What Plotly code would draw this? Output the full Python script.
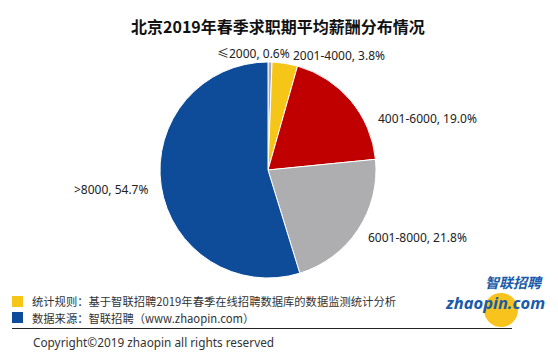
import plotly.graph_objects as go

# ---- data ----
categories = ["≤2000", "2001-4000", "4001-6000", "6001-8000", ">8000"]
shares = [0.6, 3.8, 19.0, 21.8, 54.7]
colors = ["#A9ABB8", "#F5C518", "#C00000", "#AEAEB0", "#0E4C9A"]
title_text = "北京2019年春季求职期平均薪酬分布情况"
note_rule = "统计规则：基于智联招聘2019年春季在线招聘数据库的数据监测统计分析"
note_source = "数据来源：智联招聘（www.zhaopin.com）"
copyright_text = "Copyright©2019 zhaopin all rights reserved"

W, H = 558, 355

def px(x):
    return x / W

def py(y):
    return 1 - y / H

fig = go.Figure()
fig.add_trace(go.Pie(
    labels=categories,
    values=shares,
    sort=False,
    direction="clockwise",
    rotation=0,
    textinfo="none",
    hoverinfo="label+percent",
    marker=dict(colors=colors, line=dict(color="white", width=1)),
    domain=dict(x=[px(160), px(376)], y=[py(278), py(62)]),
    showlegend=False,
))

# slice label positions (pixel centers)
label_pos = [(253, 53), (339, 55), (427, 118), (417, 237), (111, 190)]
annotations = []
for cat, val, (x, y) in zip(categories, shares, label_pos):
    annotations.append(dict(
        text=f"{cat}, {val:.1f}%", x=px(x), y=py(y), xref="paper", yref="paper",
        showarrow=False, xanchor="center", yanchor="middle",
        font=dict(family="Noto Sans, Noto Sans CJK SC", size=12, color="#222222")))

annotations.append(dict(
    text=f"<b>{title_text}</b>", x=px(278), y=py(26), xref="paper", yref="paper",
    showarrow=False, xanchor="center", yanchor="middle",
    font=dict(family="Noto Sans CJK SC", size=16, color="#111111")))

annotations.append(dict(
    text=note_rule, x=px(30), y=py(301), xref="paper", yref="paper",
    showarrow=False, xanchor="left", yanchor="middle",
    font=dict(family="Noto Sans CJK SC", size=11.3, color="#333333")))
annotations.append(dict(
    text=note_source, x=px(30), y=py(318), xref="paper", yref="paper",
    showarrow=False, xanchor="left", yanchor="middle",
    font=dict(family="Noto Sans CJK SC", size=11.3, color="#333333")))
annotations.append(dict(
    text=copyright_text, x=px(31), y=py(342), xref="paper", yref="paper",
    showarrow=False, xanchor="left", yanchor="middle",
    font=dict(family="Noto Sans, Noto Sans CJK SC", size=11.8, color="#333333")))

# logo texts
annotations.append(dict(
    text="<b><i>智联招聘</i></b>", x=px(514), y=py(282), xref="paper", yref="paper",
    showarrow=False, xanchor="center", yanchor="middle",
    font=dict(family="Noto Sans CJK SC", size=14, color="#1B5BA9")))
annotations.append(dict(
    text="<b><i>zhaopin.com</i></b>", x=px(495), y=py(302), xref="paper", yref="paper",
    showarrow=False, xanchor="center", yanchor="middle",
    font=dict(family="Noto Sans", size=16.5, color="#1B5BA9")))

shapes = [
    # logo circle
    dict(type="circle", xref="paper", yref="paper",
         x0=px(484), x1=px(518), y0=py(327), y1=py(293),
         fillcolor="#F7C31C", line=dict(width=0), layer="below"),
    # legend squares
    dict(type="rect", xref="paper", yref="paper",
         x0=px(12), x1=px(23), y0=py(307), y1=py(296),
         fillcolor="#F5C518", line=dict(width=0)),
    dict(type="rect", xref="paper", yref="paper",
         x0=px(12), x1=px(23), y0=py(323), y1=py(312),
         fillcolor="#0E4C9A", line=dict(width=0)),
    # separator line
    dict(type="line", xref="paper", yref="paper",
         x0=px(12), x1=px(512), y0=py(328.5), y1=py(328.5),
         line=dict(color="#222222", width=1.2)),
]

fig.update_layout(
    width=W, height=H,
    margin=dict(l=0, r=0, t=0, b=0),
    paper_bgcolor="white",
    plot_bgcolor="white",
    annotations=annotations,
    shapes=shapes,
)

fig.write_html("out.html",
               config={"displayModeBar": False},
               post_script="document.body.style.margin='0';document.body.style.overflow='hidden';")
